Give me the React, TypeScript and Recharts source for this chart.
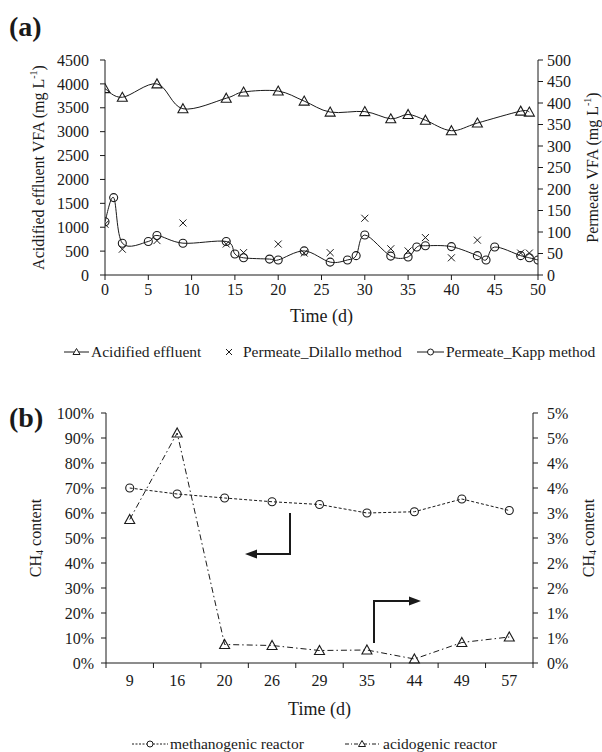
import React from 'react';
import { ComposedChart, Line, XAxis, YAxis } from 'recharts';

// ---- panel (a): VFA over time ----
const ACID_DAYS = [0, 2, 6, 9, 14, 16, 20, 23, 26, 30, 33, 35, 37, 40, 43, 48, 49];
const ACID_VFA = [3900, 3720, 4000, 3480, 3700, 3830, 3850, 3640, 3410, 3420, 3270, 3360, 3240, 3020, 3180, 3430, 3410];

const DILALLO_DAYS = [0, 2, 6, 9, 14, 16, 20, 23, 26, 30, 33, 35, 37, 40, 43, 48, 49];
const DILALLO_VFA = [118, 60, 80, 121, 72, 52, 72, 51, 52, 132, 61, 56, 87, 40, 81, 51, 51];

const KAPP_DAYS = [0, 1, 2, 5, 6, 9, 14, 15, 16, 19, 20, 23, 26, 28, 29, 30, 33, 35, 36, 37, 40, 43, 44, 45, 48, 49, 50];
const KAPP_VFA = [124, 180, 74, 78, 92, 74, 78, 49, 40, 37, 35, 56, 30, 35, 45, 93, 44, 42, 65, 68, 66, 45, 35, 65, 45, 40, 35];

const DAY_TICKS = [0, 5, 10, 15, 20, 25, 30, 35, 40, 45, 50];
const LEFT_A_TICKS = [0, 500, 1000, 1500, 2000, 2500, 3000, 3500, 4000, 4500];
const RIGHT_A_TICKS = [0, 50, 100, 150, 200, 250, 300, 350, 400, 450, 500];

// ---- panel (b): CH4 content ----
const SAMPLE_DAYS = ['9', '16', '20', '26', '29', '35', '44', '49', '57'];
const METHANOGENIC = [70, 67.6, 66, 64.5, 63.4, 60, 60.5, 65.6, 61];
const ACIDOGENIC = [2.87, 4.6, 0.37, 0.35, 0.25, 0.26, 0.08, 0.41, 0.52];

const LEFT_B_TICKS = [0, 10, 20, 30, 40, 50, 60, 70, 80, 90, 100];
const RIGHT_B_TICKS = [0, 0.5, 1, 1.5, 2, 2.5, 3, 3.5, 4, 4.5, 5];

const SERIF = '"Liberation Serif", "Times New Roman", serif';
const INK = '#1a1a1a';
const TICK = { fontSize: 16, fill: INK, fontFamily: SERIF };

const acidData = ACID_DAYS.map((d, i) => ({ day: d, v: ACID_VFA[i] }));
const dilalloData = DILALLO_DAYS.map((d, i) => ({ day: d, v: DILALLO_VFA[i] }));
const kappData = KAPP_DAYS.map((d, i) => ({ day: d, v: KAPP_VFA[i] }));
const bData = SAMPLE_DAYS.map((d, i) => ({ pos: i + 0.5, label: d, meth: METHANOGENIC[i], acid: ACIDOGENIC[i] }));

// excel-like smoothed line (catmull-rom as bezier)
function excelSmooth(context: any) {
  let pts: number[][] = [];
  return {
    areaStart() {},
    areaEnd() {},
    lineStart() { pts = []; },
    point(x: number, y: number) { pts.push([+x, +y]); },
    lineEnd() {
      const n = pts.length;
      if (!n) return;
      context.moveTo(pts[0][0], pts[0][1]);
      for (let i = 0; i < n - 1; i++) {
        const p0 = pts[Math.max(i - 1, 0)];
        const p1 = pts[i];
        const p2 = pts[i + 1];
        const p3 = pts[Math.min(i + 2, n - 1)];
        context.bezierCurveTo(
          p1[0] + (p2[0] - p0[0]) / 6, p1[1] + (p2[1] - p0[1]) / 6,
          p2[0] - (p3[0] - p1[0]) / 6, p2[1] - (p3[1] - p1[1]) / 6,
          p2[0], p2[1],
        );
      }
    },
  };
}

function triDot(p: any) {
  const { cx, cy } = p;
  return <path key={`t${p.index}`} d={`M${cx},${cy - 5}L${cx + 5},${cy + 4}L${cx - 5},${cy + 4}Z`} fill="none" stroke={INK} strokeWidth={1.1} />;
}
function circDot(p: any) {
  return <circle key={`c${p.index}`} cx={p.cx} cy={p.cy} r={4} fill="none" stroke={INK} strokeWidth={1.1} />;
}
function crossDot(p: any) {
  const { cx, cy } = p;
  return <path key={`x${p.index}`} d={`M${cx - 3.5},${cy - 3.5}L${cx + 3.5},${cy + 3.5}M${cx - 3.5},${cy + 3.5}L${cx + 3.5},${cy - 3.5}`} stroke={INK} strokeWidth={1} />;
}

function vTitle(lines: React.ReactNode, dx: number) {
  return (props: any) => {
    const vb = props.viewBox;
    const x = vb.x + dx;
    const y = vb.y + vb.height / 2;
    return (
      <text x={x} y={y} transform={`rotate(-90 ${x} ${y})`} textAnchor="middle" dominantBaseline="central"
        fontFamily={SERIF} fontSize={16} fill={INK}>
        {lines}
      </text>
    );
  };
}

const mgL = (label: string) => (
  <>
    {label} (mg L<tspan fontSize={10} dy={-5}>-1</tspan><tspan dy={5}>)</tspan>
  </>
);
const ch4 = (
  <>
    CH<tspan fontSize={10} dy={4}>4</tspan><tspan dy={-4}> content</tspan>
  </>
);

function bTick(p: any) {
  const { x, y, payload } = p;
  const i = payload.value;
  if (i >= SAMPLE_DAYS.length) return <g />;
  const band = (533 - 106) / SAMPLE_DAYS.length;
  return (
    <text x={x + band / 2} y={y + 5} textAnchor="middle" dominantBaseline="hanging" {...TICK}>{SAMPLE_DAYS[i]}</text>
  );
}

const TITLE_STYLE = { fontFamily: SERIF, fontSize: 18, fill: INK };

function PanelA() {
  return (
    <ComposedChart width={602} height={380} margin={{ top: 60, right: 4, bottom: 75, left: 45 }}>
      <XAxis type="number" dataKey="day" domain={[0, 50]} ticks={DAY_TICKS} allowDataOverflow
        tick={TICK} stroke={INK} tickSize={5} tickMargin={4} height={30} interval={0}
        label={{ value: 'Time (d)', position: 'bottom', offset: 4, style: TITLE_STYLE }} />
      <YAxis yAxisId="l" domain={[0, 4500]} ticks={LEFT_A_TICKS} interval={0} tick={TICK} stroke={INK} tickSize={5} tickMargin={11} width={60}
        label={{ content: vTitle(mgL('Acidified effluent VFA'), -7) }} />
      <YAxis yAxisId="r" orientation="right" domain={[0, 500]} ticks={RIGHT_A_TICKS} interval={0} tick={TICK} stroke={INK} tickSize={5} tickMargin={4} width={60}
        label={{ content: vTitle(mgL('Permeate VFA'), 54) }} />
      <Line yAxisId="l" data={acidData} dataKey="v" type={excelSmooth as any} stroke={INK} strokeWidth={1} dot={triDot} activeDot={false} isAnimationActive={false} />
      <Line yAxisId="r" data={dilalloData} dataKey="v" stroke="none" dot={crossDot} activeDot={false} isAnimationActive={false} />
      <Line yAxisId="r" data={kappData} dataKey="v" type={excelSmooth as any} stroke={INK} strokeWidth={1} dot={circDot} activeDot={false} isAnimationActive={false} />
    </ComposedChart>
  );
}

function PanelB() {
  return (
    <ComposedChart width={602} height={372} data={bData} margin={{ top: 33, right: 9, bottom: 59, left: 46 }}>
      <XAxis type="number" dataKey="pos" domain={[0, 9]} ticks={[0, 1, 2, 3, 4, 5, 6, 7, 8, 9]} interval={0}
        tick={bTick} stroke={INK} tickSize={5} height={30}
        label={{ value: 'Time (d)', position: 'bottom', offset: 9, style: TITLE_STYLE }} />
      <YAxis yAxisId="l" domain={[0, 100]} ticks={LEFT_B_TICKS} interval={0} tick={TICK} stroke={INK} tickSize={5} tickMargin={7} width={60}
        tickFormatter={(v: number) => `${v}%`} label={{ content: vTitle(ch4, -11) }} />
      <YAxis yAxisId="r" orientation="right" domain={[0, 5]} ticks={RIGHT_B_TICKS} interval={0} tick={TICK} stroke={INK} tickSize={5} tickMargin={9} width={60}
        tickFormatter={(v: number) => `${Math.round(v)}%`} label={{ content: vTitle(ch4, 55) }} />
      <Line yAxisId="l" dataKey="meth" type="linear" stroke={INK} strokeWidth={1} strokeDasharray="3 2" dot={circDot} activeDot={false} isAnimationActive={false} />
      <Line yAxisId="r" dataKey="acid" type="linear" stroke={INK} strokeWidth={1} strokeDasharray="6 3 1.5 3" dot={triDot} activeDot={false} isAnimationActive={false} />
    </ComposedChart>
  );
}

function Icon({ kind, dash, w }: { kind: 'tri' | 'circ' | 'cross'; dash?: string; w: number }) {
  const m = w / 2;
  return (
    <svg width={w} height={14} style={{ display: 'block' }}>
      {kind !== 'cross' && <line x1={0} y1={7} x2={w} y2={7} stroke={INK} strokeWidth={1} strokeDasharray={dash} />}
      {kind === 'tri' && <path d={`M${m},3.5L${m + 3.5},9.5L${m - 3.5},9.5Z`} fill="#fff" stroke={INK} />}
      {kind === 'circ' && <circle cx={m} cy={7} r={3} fill="#fff" stroke={INK} />}
      {kind === 'cross' && <path d={`M${m - 3},4L${m + 3},10M${m - 3},10L${m + 3},4`} stroke={INK} />}
    </svg>
  );
}

const itemStyle: React.CSSProperties = {
  position: 'absolute', fontFamily: SERIF, fontSize: 15.5, color: INK, whiteSpace: 'nowrap', lineHeight: '18px',
};

function LegItem({ x, y, w, kind, dash, text, tx }: any) {
  return (
    <>
      <div style={{ position: 'absolute', left: x, top: y - 7 }}><Icon kind={kind} dash={dash} w={w} /></div>
      <div style={{ ...itemStyle, left: tx, top: y - 9 }}>{text}</div>
    </>
  );
}

export default function App() {
  return (
    <div style={{ position: 'absolute', left: 0, top: 0, width: 602, height: 752, background: '#fff', fontFamily: SERIF }}>
      <div style={{ position: 'absolute', left: 0, top: 0 }}><PanelA /></div>
      <div style={{ position: 'absolute', left: 0, top: 380 }}><PanelB /></div>

      {/* arrows for panel (b) */}
      <svg width={602} height={752} style={{ position: 'absolute', left: 0, top: 0, pointerEvents: 'none' }}>
        <path d="M290,513V554H256" fill="none" stroke={INK} strokeWidth={2} />
        <path d="M245,554L257,549.5L257,558.5Z" fill={INK} />
        <path d="M374,643V601H411" fill="none" stroke={INK} strokeWidth={2} />
        <path d="M421,601L409,596.5L409,605.5Z" fill={INK} />
      </svg>

      <div style={{ position: 'absolute', left: 9, top: 11, fontFamily: SERIF, fontWeight: 'bold', fontSize: 28, color: INK }}>(a)</div>
      <div style={{ position: 'absolute', left: 9, top: 402, fontFamily: SERIF, fontWeight: 'bold', fontSize: 28, color: INK }}>(b)</div>

      <LegItem x={64} y={352} w={25} kind="tri" tx={91} text="Acidified effluent" />
      <LegItem x={220} y={352} w={18} kind="cross" tx={243} text="Permeate_Dilallo method" />
      <LegItem x={417} y={352} w={27} kind="circ" tx={446} text="Permeate_Kapp method" />

      <LegItem x={132} y={744} w={36} kind="circ" dash="2 1.5" tx={170} text="methanogenic reactor" />
      <LegItem x={345} y={744} w={34} kind="tri" dash="4 2 1 2" tx={383} text="acidogenic reactor" />
    </div>
  );
}
